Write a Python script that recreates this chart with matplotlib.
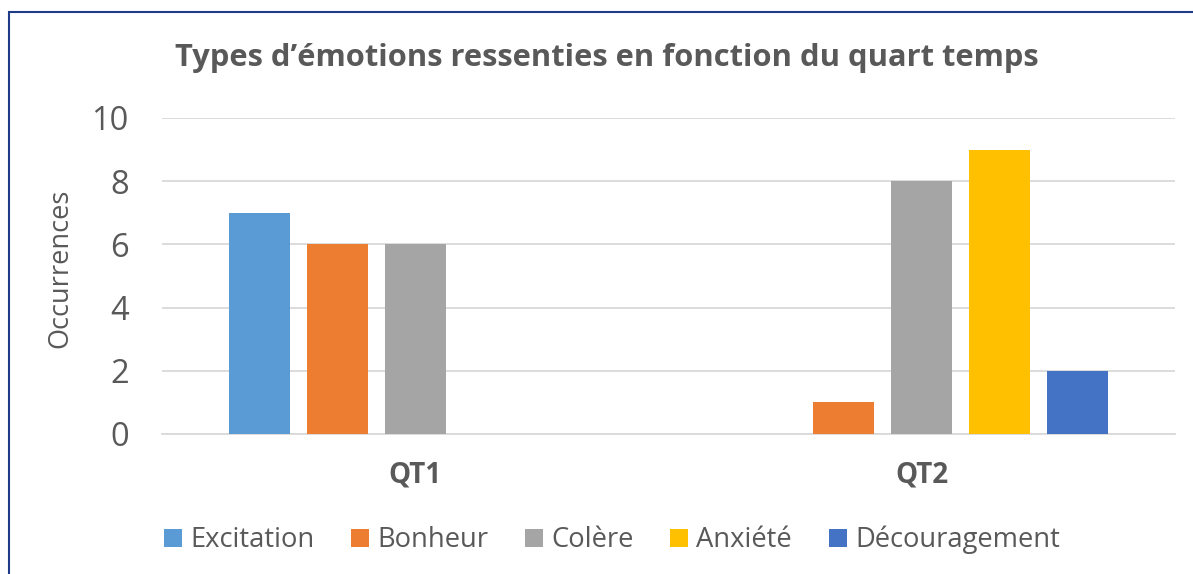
import matplotlib
matplotlib.use("Agg")
import matplotlib.pyplot as plt
from matplotlib.patches import Rectangle
import numpy as np

plt.rcParams['font.family'] = ['Open Sans', 'DejaVu Sans']

categories = ["QT1", "QT2"]
series = ["Excitation", "Bonheur", "Colère", "Anxiété", "Découragement"]
excitation = [7, 0]
bonheur = [6, 1]
colere = [6, 8]
anxiete = [0, 9]
decouragement = [0, 2]
values = [excitation, bonheur, colere, anxiete, decouragement]
colors = ["#5B9BD5", "#ED7D31", "#A5A5A5", "#FFC000", "#4472C4"]
yticks = [0, 2, 4, 6, 8, 10]

text_col = "#595959"

fig = plt.figure(figsize=(11.93, 5.74), dpi=100)
ax = fig.add_axes([162/1193, 1-434/574, (1175-162)/1193, (434-118)/574])

x = np.arange(len(categories))
step = 0.154
width = 0.12
handles = []
for i, (name, vals, c) in enumerate(zip(series, values, colors)):
    h = ax.bar(x + (i - 2) * step, vals, width=width, color=c, label=name, zorder=3)
    handles.append(h)

ax.set_xlim(-0.5, 1.5)
ax.set_ylim(0, 10)
ax.set_yticks(yticks)
ax.set_yticklabels([str(v) for v in yticks], fontsize=23.5, color=text_col)
ax.set_xticks(x)
ax.set_xticklabels(categories, fontsize=20, fontweight='bold', color=text_col)
ax.tick_params(axis='y', length=0, pad=24)
ax.tick_params(axis='x', length=0, pad=19)
ax.grid(axis='y', color='#D9D9D9', linewidth=1.3, zorder=0)
for s in ['top', 'right', 'left']:
    ax.spines[s].set_visible(False)
ax.spines['bottom'].set_color('#D9D9D9')
ax.spines['bottom'].set_linewidth(1.3)

ax.set_ylabel("Occurrences", fontsize=19.5, color=text_col)
ax.yaxis.set_label_coords(74/1193, 1-(278-10)/574 , transform=fig.transFigure)

fig.text(607/1193, 1-58/574, "Types d\u2019émotions ressenties en fonction du quart temps",
         ha='center', va='center', fontsize=22.2, fontweight='bold', color=text_col)

leg = fig.legend(handles=handles, labels=series, loc='center',
                 bbox_to_anchor=(612/1193, 1-540/574), ncol=5, frameon=False,
                 fontsize=19.7, handlelength=0.65, handleheight=0.65,
                 handletextpad=0.3, columnspacing=1.35)
for t in leg.get_texts():
    t.set_color(text_col)

fig.patches.append(Rectangle((9/1193, -0.1), 1.2, 1 - 12/574 + 0.1,
                             transform=fig.transFigure, fill=False,
                             edgecolor='#1F3C88', linewidth=1.5))

fig.savefig("out.png", dpi=100)
